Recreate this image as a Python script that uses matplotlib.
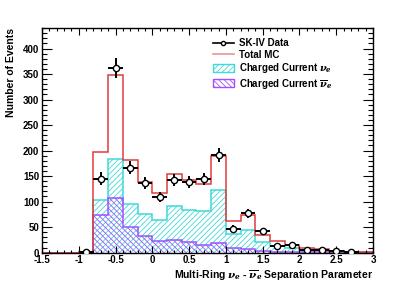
import numpy as np
import matplotlib
matplotlib.use('Agg')
import matplotlib.pyplot as plt
from matplotlib.lines import Line2D
from matplotlib.patches import Patch
from matplotlib.ticker import MultipleLocator, FormatStrFormatter

plt.rcParams['font.family'] = ['Liberation Sans', 'DejaVu Sans']
plt.rcParams['font.weight'] = 'bold'
plt.rcParams['mathtext.fontset'] = 'dejavuserif'
plt.rcParams['hatch.linewidth'] = 0.6

# bins of 0.2 from -1.6 to 3.0
bin_edges = np.round(np.arange(-1.6, 3.01, 0.2), 1)

total_mc = [0, 0, 0, 1, 197, 349, 182, 138, 116, 155, 142, 134, 190,
            62, 74, 34, 22, 15, 8.5, 7, 4, 2, 1]
cc_nue = [0, 0, 0, 0.5, 104, 184, 96, 75, 63, 92, 83, 81, 122,
          36, 44, 21, 12, 10, 5, 4, 2, 1, 0.5]
cc_nuebar = [0, 0, 0, 0.3, 73, 108, 50, 32, 23, 25, 20, 15, 18,
             8.5, 7, 4, 2, 1, 0.5, 0.5, 0.3, 0.2, 0.1]

# SK-IV data, one point per bin from -1.0 to 2.8
data_counts = [1, 145, 362, 166, 137, 109, 143, 138, 144, 192,
               47, 77, 42, 12, 14, 6, 6, 3, 2]

red = '#e03c3c'
cyan = '#40d8d8'
purple = '#a050ff'

fig = plt.figure(figsize=(4.15, 2.81), dpi=100)
ax = fig.add_axes([0.101, 0.101, 0.798, 0.799])

ax.stairs(cc_nue, bin_edges, fill=True, facecolor='none', edgecolor=cyan,
          hatch='//////', linewidth=0)
ax.stairs(cc_nue, bin_edges, color=cyan, linewidth=1.1)
ax.stairs(cc_nuebar, bin_edges, fill=True, facecolor='none', edgecolor=purple,
          hatch='\\\\\\\\\\\\', linewidth=0)
ax.stairs(cc_nuebar, bin_edges, color=purple, linewidth=1.1)
ax.stairs(total_mc, bin_edges, color=red, linewidth=1.1)

centers = (bin_edges[:-1] + bin_edges[1:]) / 2
data_x = centers[3:3 + len(data_counts)]
data_y = np.array(data_counts, dtype=float)
ax.errorbar(data_x, data_y, yerr=np.sqrt(data_y), xerr=0.1, fmt='o',
            color='black', mfc='white', mec='black', ms=4.5, mew=1.0,
            elinewidth=1.4, capsize=0, zorder=5)

ax.set_xlim(-1.5, 3)
ax.set_ylim(0, 440)
ax.xaxis.set_major_locator(MultipleLocator(0.5))
ax.xaxis.set_minor_locator(MultipleLocator(0.1))
ax.yaxis.set_major_locator(MultipleLocator(50))
ax.yaxis.set_minor_locator(MultipleLocator(10))
ax.xaxis.set_major_formatter(FormatStrFormatter('%g'))
ax.tick_params(which='both', direction='in', top=True, right=True,
               labelsize=7, width=0.8, pad=2)
ax.tick_params(axis='x', which='major', length=5)
ax.tick_params(axis='x', which='minor', length=2.5)
ax.tick_params(axis='y', which='major', length=7)
ax.tick_params(axis='y', which='minor', length=3.5)
for s in ax.spines.values():
    s.set_linewidth(1.0)

ax.set_ylabel('Number of Events', fontsize=7.5, fontweight='bold', loc='top')
ax.yaxis.set_label_coords(-0.078, 1.0)
ax.set_xlabel(r'Multi-Ring $\nu_e$ - $\overline{\nu}_e$ Separation Parameter',
              fontsize=7.5, fontweight='bold', loc='right')
ax.xaxis.set_label_coords(1.0, -0.068)

handles = [
    Line2D([0], [0], color='black', marker='o', mfc='white', mec='black',
           ms=3, lw=1.2),
    Line2D([0], [0], color=red, lw=1.1, alpha=0.6),
    Patch(facecolor='none', edgecolor=cyan, hatch='//////', lw=1),
    Patch(facecolor='none', edgecolor=purple, hatch='\\\\\\\\\\\\', lw=1),
]
labels = ['SK-IV Data', 'Total MC', r'Charged Current $\nu_e$',
          r'Charged Current $\overline{\nu}_e$']
ax.legend(handles, labels, loc='upper left', bbox_to_anchor=(0.495, 0.985),
          frameon=False, fontsize=7, handlelength=2.2, handleheight=0.9,
          labelspacing=0.15, handletextpad=0.5, borderpad=0.2)

fig.savefig('out.png', dpi=100)
